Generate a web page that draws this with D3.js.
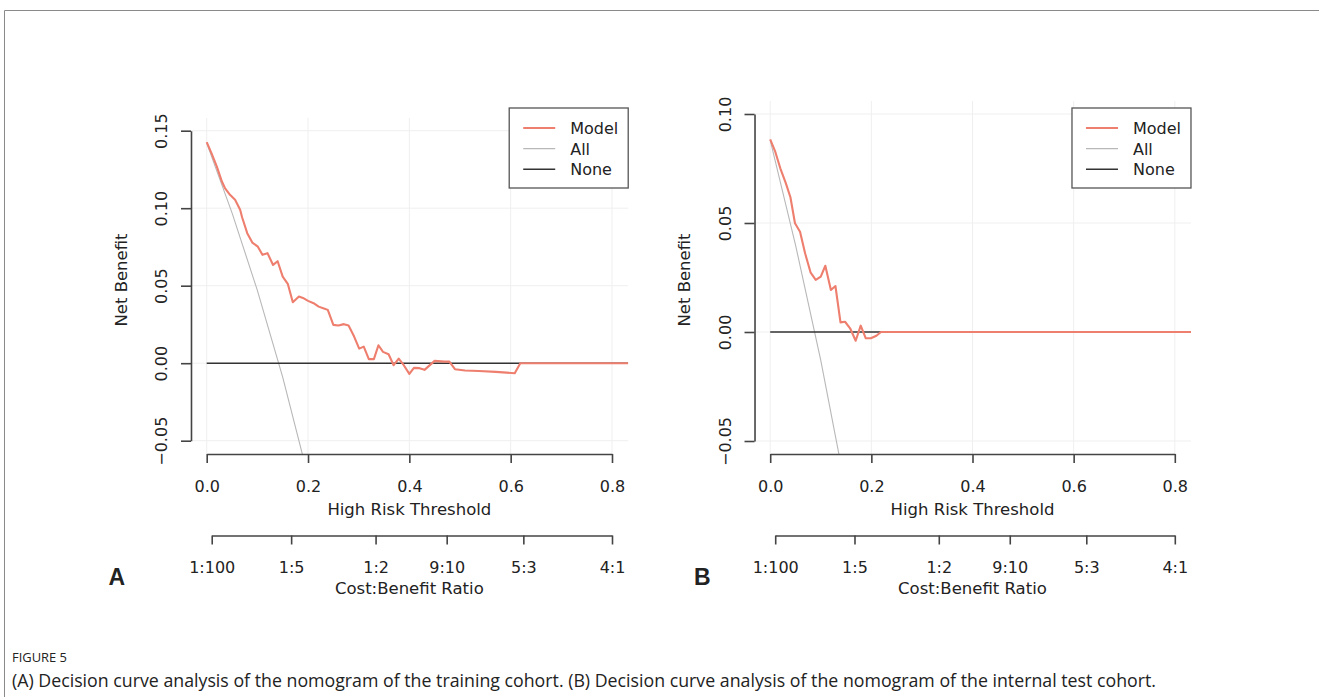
<!DOCTYPE html>
<html>
<head>
<meta charset="utf-8">
<script src="https://cdn.jsdelivr.net/npm/d3@7"></script>
<style>
  body { margin: 0; background: #fff; }
  text { font-family: "DejaVu Sans", sans-serif; fill: #222; }
</style>
</head>
<body>
<div id="chart"></div>
<script>
// thresholds and net benefit
var thrA = [0, 0.01, 0.02, 0.03, 0.036, 0.046, 0.056, 0.066, 0.07, 0.08, 0.09, 0.101, 0.11, 0.12, 0.131, 0.14, 0.15, 0.16, 0.17, 0.182, 0.19, 0.2, 0.211, 0.221, 0.23, 0.239, 0.25, 0.26, 0.271, 0.28, 0.291, 0.301, 0.31, 0.32, 0.33, 0.339, 0.348, 0.359, 0.369, 0.379, 0.389, 0.4, 0.409, 0.42, 0.43, 0.441, 0.45, 0.469, 0.479, 0.49, 0.51, 0.537, 0.571, 0.608, 0.619, 0.832];
var modelA = [0.1426, 0.135, 0.1268, 0.1172, 0.113, 0.1086, 0.1054, 0.099, 0.094, 0.0839, 0.0778, 0.0752, 0.0699, 0.071, 0.0634, 0.0658, 0.0559, 0.0512, 0.0393, 0.043, 0.0421, 0.0402, 0.0387, 0.0365, 0.0355, 0.0344, 0.0247, 0.0243, 0.0252, 0.0243, 0.0172, 0.0094, 0.0107, 0.0026, 0.0026, 0.0116, 0.0073, 0.0058, -0.0013, 0.003, -0.0013, -0.0069, -0.003, -0.0032, -0.0043, -0.0011, 0.0015, 0.001, 0.001, -0.0039, -0.0047, -0.005, -0.0056, -0.0065, 0, 0];
var thrAllA = [0, 0.05, 0.1, 0.15, 0.2];
var allA = [0.142, 0.097, 0.047, -0.009, -0.073];

var thrB = [0, 0.01, 0.02, 0.031, 0.04, 0.049, 0.059, 0.069, 0.08, 0.09, 0.1, 0.109, 0.12, 0.129, 0.139, 0.148, 0.158, 0.169, 0.179, 0.189, 0.199, 0.21, 0.219, 0.832];
var modelB = [0.0884, 0.0827, 0.0751, 0.0682, 0.0618, 0.0499, 0.046, 0.0361, 0.0272, 0.0239, 0.0254, 0.0304, 0.0193, 0.0211, 0.0044, 0.0047, 0.0017, -0.004, 0.0029, -0.0029, -0.0029, -0.0017, 0, 0];
var thrAllB = [0, 0.05, 0.1, 0.15];
var allB = [0.088, 0.040, -0.013, -0.073];

var thrNone = [0, 0.832];
var none = [0, 0];

var xTicks = [0, 0.2, 0.4, 0.6, 0.8];
var yTicksA = [-0.05, 0, 0.05, 0.10, 0.15];
var yTicksB = [-0.05, 0, 0.05, 0.10];
var cbTicks = [1 / 101, 1 / 6, 1 / 3, 9 / 19, 5 / 8, 4 / 5];
var cbLabels = ["1:100", "1:5", "1:2", "9:10", "5:3", "4:1"];
var legendNames = ["Model", "All", "None"];

var colModel = "#ee7e6e", colAll = "#b8b8b8", colNone = "#333";

var svg = d3.select("#chart").append("svg")
    .attr("width", 1319)
    .attr("height", 697);

// outer frame
svg.append("path")
    .attr("d", "M4.5,697 V10.5 H1319")
    .attr("fill", "none")
    .attr("stroke", "#8a8a8a")
    .attr("stroke-width", 1);

function zip(a, b) {
    return a.map(function (v, i) { return [v, b[i]]; });
}

function panel(o) {
    var x = d3.scaleLinear().domain([0, 0.8]).range([o.x0, o.x8]);
    var y = d3.scaleLinear().domain([o.yTicks[0], o.yTicks[o.yTicks.length - 1]]).range([o.yBot, o.yTop]);
    var left = x(-0.032), right = x(0.832);
    var top = o.plotTop, bottom = 454;

    var g = svg.append("g");

    g.append("clipPath").attr("id", "clip" + o.id)
        .append("rect")
        .attr("x", left).attr("y", top)
        .attr("width", right - left).attr("height", bottom - top);

    // grid
    g.selectAll(".vg").data(xTicks).enter().append("line")
        .attr("x1", function (d) { return x(d); }).attr("x2", function (d) { return x(d); })
        .attr("y1", top).attr("y2", bottom)
        .attr("stroke", "#efefef");
    g.selectAll(".hg").data(o.yTicks).enter().append("line")
        .attr("x1", left).attr("x2", right)
        .attr("y1", function (d) { return y(d); }).attr("y2", function (d) { return y(d); })
        .attr("stroke", "#efefef");

    var line = d3.line()
        .x(function (d) { return x(d[0]); })
        .y(function (d) { return y(d[1]); });

    var lines = g.append("g").attr("clip-path", "url(#clip" + o.id + ")");
    lines.append("path").datum(zip(o.thrAll, o.all))
        .attr("d", line).attr("fill", "none")
        .attr("stroke", colAll).attr("stroke-width", 1.1);
    lines.append("path").datum(zip(thrNone, none))
        .attr("d", line).attr("fill", "none")
        .attr("stroke", colNone).attr("stroke-width", 1.5);
    lines.append("path").datum(zip(o.thr, o.model))
        .attr("d", line).attr("fill", "none")
        .attr("stroke", colModel).attr("stroke-width", 2.1)
        .attr("stroke-linejoin", "round");

    // y axis
    var yAxis = g.append("g")
        .attr("transform", "translate(" + (left + 0.5) + ",0)")
        .call(d3.axisLeft(y).tickValues(o.yTicks).tickSize(10).tickSizeOuter(0)
            .tickFormat(d3.format(".2f")));
    yAxis.selectAll("text")
        .attr("transform", "rotate(-90)")
        .attr("x", 0).attr("y", -24).attr("dy", 0)
        .style("text-anchor", "middle");

    // threshold axis
    var xAxis = g.append("g")
        .attr("transform", "translate(0," + bottom + ")")
        .call(d3.axisBottom(x).tickValues(xTicks).tickSize(9).tickSizeOuter(0)
            .tickFormat(d3.format(".1f")));
    xAxis.selectAll("text").attr("y", 38).attr("dy", 0);

    // cost:benefit axis
    var xc = x.copy().domain([cbTicks[0], 0.8]).range([x(cbTicks[0]), x(0.8)]);
    var cAxis = g.append("g")
        .attr("transform", "translate(0," + 535.5 + ")")
        .call(d3.axisBottom(xc).tickValues(cbTicks).tickSize(9).tickSizeOuter(0)
            .tickFormat(function (d, i) { return cbLabels[i]; }));
    cAxis.selectAll("text").attr("y", 37).attr("dy", 0);

    [yAxis, xAxis, cAxis].forEach(function (a) {
        a.selectAll("path, line").attr("stroke", "#444").attr("stroke-width", 1.6);
        a.selectAll("text").style("font-size", "16px").attr("fill", "#222")
            .style("font-family", "'DejaVu Sans', sans-serif");
    });

    var mid = (x(0) + x(0.8)) / 2;
    g.append("text").attr("x", mid).attr("y", 515).attr("text-anchor", "middle")
        .style("font-size", "16.5px").text("High Risk Threshold");
    g.append("text").attr("x", mid).attr("y", 594).attr("text-anchor", "middle")
        .style("font-size", "16.5px").text("Cost:Benefit Ratio");
    g.append("text")
        .attr("transform", "translate(" + o.ylabX + ",280) rotate(-90)")
        .attr("text-anchor", "middle")
        .style("font-size", "16.5px").text("Net Benefit");

    // legend
    var lg = g.append("g").attr("transform", "translate(" + (right - 119) + ",108)");
    lg.append("rect").attr("width", 119).attr("height", 80)
        .attr("fill", "#fff").attr("stroke", "#555").attr("stroke-width", 1.3);
    var cols = [colModel, colAll, colNone];
    var widths = [2.1, 1.1, 1.5];
    legendNames.forEach(function (n, i) {
        var yy = 20 + i * 20.6;
        lg.append("line").attr("x1", 14).attr("x2", 46).attr("y1", yy).attr("y2", yy)
            .attr("stroke", cols[i]).attr("stroke-width", widths[i]);
        lg.append("text").attr("x", 61).attr("y", yy + 6)
            .style("font-size", "16px").text(n);
    });

    // panel letter
    g.append("text").attr("x", o.letterX).attr("y", 585)
        .style("font-family", "'Liberation Sans', Arial, sans-serif")
        .style("font-weight", "bold").style("font-size", "23px")
        .attr("fill", "#111").text(o.id);
}

panel({ id: "A", x0: 206.7, x8: 612, yTicks: yTicksA, yBot: 440.7, yTop: 130.7, plotTop: 118,
    thr: thrA, model: modelA, thrAll: thrAllA, all: allA, ylabX: 127, letterX: 108.5 });
panel({ id: "B", x0: 770.2, x8: 1174.8, yTicks: yTicksB, yBot: 441, yTop: 114, plotTop: 101,
    thr: thrB, model: modelB, thrAll: thrAllB, all: allB, ylabX: 690, letterX: 694 });

// caption
svg.append("text").attr("x", 12).attr("y", 662)
    .style("font-family", "'Open Sans', sans-serif").style("font-size", "13px")
    .attr("fill", "#666").attr("textLength", 55).attr("lengthAdjust", "spacingAndGlyphs")
    .text("FIGURE 5");
svg.append("text").attr("x", 12).attr("y", 687)
    .style("font-family", "'Open Sans', sans-serif").style("font-size", "18px")
    .attr("fill", "#555").attr("textLength", 1144).attr("lengthAdjust", "spacingAndGlyphs")
    .text("(A) Decision curve analysis of the nomogram of the training cohort. (B) Decision curve analysis of the nomogram of the internal test cohort.");
</script>
</body>
</html>
